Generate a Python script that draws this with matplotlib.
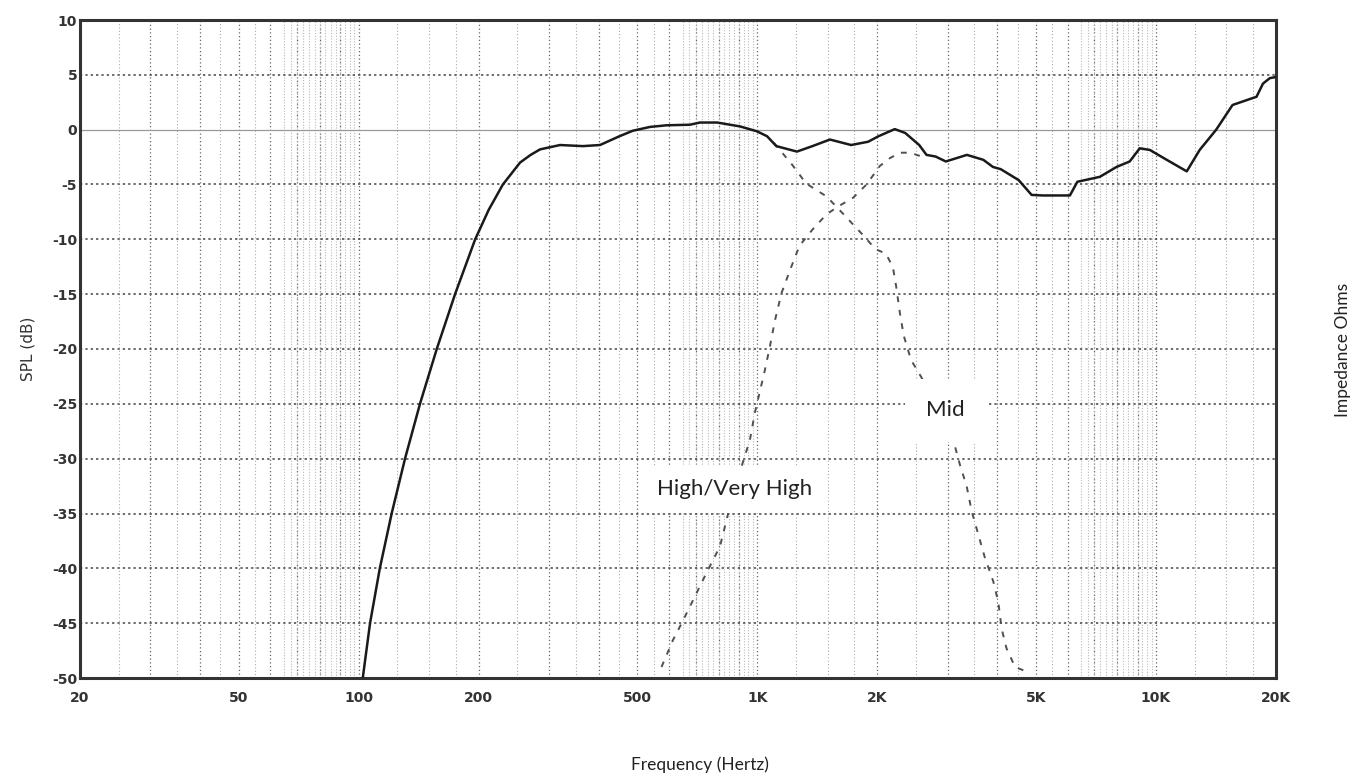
import numpy as np
import matplotlib
matplotlib.use("Agg")
import matplotlib.pyplot as plt
from matplotlib.ticker import FixedLocator, NullLocator

plt.rcParams["axes.unicode_minus"] = False

# combined system response (solid)
main_f = [102.4, 106.8, 113, 121, 130.7, 142.5, 157, 174.5, 196, 212, 230, 254, 270, 285, 320, 365, 403,
          451, 487, 538, 593, 677, 718, 793, 904, 998, 1058, 1116, 1257, 1375, 1521, 1719, 1897,
          2013, 2212, 2349, 2547, 2657, 2800, 2970, 3355, 3689, 3900, 4078, 4525, 4875, 5200, 6082,
          6350, 7232, 7960, 8590, 9105, 9653, 10640, 11945, 12870, 14160, 15560, 17870, 18550,
          19300, 20000]
main_db = [-50, -45, -40, -35, -30, -25, -20, -15, -10, -7.3, -5, -3, -2.3, -1.8, -1.4, -1.5, -1.4,
           -0.6, -0.1, 0.25, 0.4, 0.45, 0.65, 0.65, 0.3, -0.15, -0.6, -1.5, -2.0, -1.5, -0.9, -1.4, -1.1,
           -0.6, 0.05, -0.3, -1.4, -2.3, -2.45, -2.9, -2.3, -2.75, -3.4, -3.6, -4.6, -5.95, -6.0, -6.0,
           -4.75, -4.3, -3.4, -2.9, -1.7, -1.85, -2.75, -3.8, -1.85, 0, 2.25, 3.0, 4.2,
           4.7, 4.8]

# high / very high section (dashed)
high_f = [575, 615, 646, 690, 746, 806, 845, 922, 958, 986, 1045, 1075, 1107, 1150, 1208, 1275,
          1376, 1493, 1613, 1740, 1879, 2030, 2150, 2279, 2420, 2558, 2657]
high_db = [-49, -46.5, -45, -42.9, -40.4, -38, -35, -30.2, -28.3, -25.8, -21.9, -19.8, -17.4, -14.9,
           -12.8, -10.6, -9.1, -7.7, -6.9, -6.2, -5.0, -3.3, -2.6, -2.1, -2.1, -2.4, -2.3]

# mid section (dashed)
mid_f = [1100, 1139, 1223, 1325, 1493, 1654, 1829, 1980, 2100, 2187, 2230, 2278, 2330, 2430, 2581,
         3101, 3225, 3350, 3450, 3582, 3720, 3908, 4023, 4100, 4218, 4431, 4650]
mid_db = [-1.2, -1.85, -3.2, -4.9, -6.1, -7.8, -9.5, -10.9, -11.3, -12.5, -14.3, -16.7, -18.8, -21,
          -22.6, -28.3, -30.6, -32.5, -34.8, -36.9, -39, -41.2, -43.1, -45.5, -47.3, -49, -49.3]

x_ticks = [20, 50, 100, 200, 500, 1000, 2000, 5000, 10000, 20000]
x_labels = ["20", "50", "100", "200", "500", "1K", "2K", "5K", "10K", "20K"]
y_ticks = list(range(-50, 11, 5))

W, H = 1354, 784
fig = plt.figure(figsize=(W / 100, H / 100), dpi=100)
ax = fig.add_axes([80 / W, 1 - 678 / H, 1196 / W, 658 / H])
ax.set_xscale("log")
ax.set_xlim(20, 20000)
ax.set_ylim(-50, 10)

# vertical grid: plain decade subdivisions plus denser light bands near the top of each decade
for d in [10, 100, 1000, 10000]:
    for s in range(1, 10):
        f = d * s
        if 20 < f < 20000:
            ax.axvline(f, color="#666666", lw=0.9, ls=(0, (1, 2)), zorder=0)
    for s in [1.25, 1.5, 1.75, 2.5, 3.5, 4.5, 5.5]:
        f = d * s
        if 20 < f < 20000:
            ax.axvline(f, color="#aaaaaa", lw=0.8, ls=(0, (1, 2)), zorder=0)
    for s in np.arange(6.5, 10, 0.25):
        f = d * s
        if 20 < f < 20000:
            ax.axvline(f, color="#b8b8b8", lw=0.8, ls=(0, (1, 1.5)), zorder=0)

for y in y_ticks[1:-1]:
    if y == 0:
        ax.axhline(y, color="#999999", lw=0.9, zorder=0)
    else:
        ax.axhline(y, color="#444444", lw=1.1, ls=(0, (1.5, 2)), zorder=0)

ax.plot(high_f, high_db, color="#505050", lw=1.4, ls=(0, (3, 4)), zorder=2)
ax.plot(mid_f, mid_db, color="#505050", lw=1.4, ls=(0, (3, 4)), zorder=2)
ax.plot(main_f, main_db, color="#1a1a1a", lw=1.8, zorder=3)

ax.xaxis.set_major_locator(FixedLocator(x_ticks))
ax.xaxis.set_minor_locator(NullLocator())
ax.set_xticklabels(x_labels)
ax.set_yticks(y_ticks)
ax.tick_params(length=0, labelsize=10, colors="#333333")
ax.tick_params(axis="x", pad=9)
ax.tick_params(axis="y", pad=2)
for lab in ax.get_xticklabels() + ax.get_yticklabels():
    lab.set_fontweight("bold")
for sp in ax.spines.values():
    sp.set_color("#333333")
    sp.set_linewidth(2.2)

ax.text(879, -32.8, "High/Very High", family="Lato", fontsize=16, color="#222222",
        ha="center", va="center", zorder=4,
        bbox=dict(facecolor="white", edgecolor="none", boxstyle="square,pad=0.6"))
ax.text(2960, -25.6, "Mid", family="Lato", fontsize=16, color="#222222",
        ha="center", va="center", zorder=4,
        bbox=dict(facecolor="white", edgecolor="none", boxstyle="square,pad=0.95"))

ax.set_ylabel("SPL (dB)", fontsize=11, color="#333333", labelpad=12)
fig.text(700 / W, 1 - 765 / H, "Frequency (Hertz)", family="Lato", fontsize=12.5,
         color="#222222", ha="center", va="center")
fig.text(1343 / W, 1 - 350 / H, "Impedance Ohms", family="Lato", fontsize=12.5,
         color="#222222", ha="center", va="center", rotation=90)

fig.savefig("out.png", dpi=100)
